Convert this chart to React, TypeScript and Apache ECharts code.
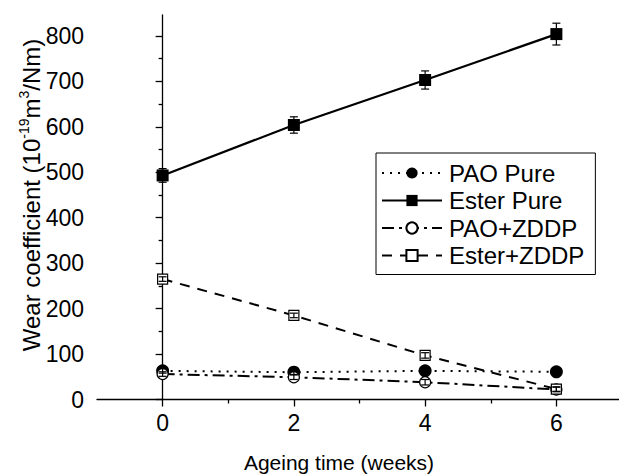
import React, { useEffect, useRef } from "react";
import * as echarts from "echarts";

const weeks = [0, 2, 4, 6];
const paoPure = [63, 60, 63, 61];
const paoPureErr = [5, 5, 4, 4];
const esterPure = [493, 604, 703, 804];
const esterPureErr = [15, 18, 20, 24];
const paoZddp = [56, 49, 38, 22];
const paoZddpErr = [5, 5, 6, 5];
const esterZddp = [265, 185, 97, 23];
const esterZddpErr = [5, 5, 6, 5];

const seriesNames = ["PAO Pure", "Ester Pure", "PAO+ZDDP", "Ester+ZDDP"];
const xTickLabels = [0, 2, 4, 6];
const xMinorTicks = [1, 3, 5];
const yTickLabels = [0, 100, 200, 300, 400, 500, 600, 700, 800];
const yMinorTicks = [50, 150, 250, 350, 450, 550, 650, 750];

const FONT = "'Liberation Sans', Arial, sans-serif";

function pairs(vals: number[]) {
  return weeks.map((w, i) => [w, vals[i]]);
}
function errData(vals: number[], errs: number[]) {
  return weeks.map((w, i) => [w, vals[i] - errs[i], vals[i] + errs[i]]);
}

function errSeries(vals: number[], errs: number[]) {
  return {
    type: "custom",
    silent: true,
    z: 5,
    data: errData(vals, errs),
    renderItem: (params: any, api: any) => {
      const x = api.value(0);
      const lo = api.coord([x, api.value(1)]);
      const hi = api.coord([x, api.value(2)]);
      const cw = 4;
      const st = { stroke: "#000", lineWidth: 1.2 };
      return {
        type: "group",
        children: [
          { type: "line", shape: { x1: lo[0], y1: lo[1], x2: hi[0], y2: hi[1] }, style: st },
          { type: "line", shape: { x1: hi[0] - cw, y1: hi[1], x2: hi[0] + cw, y2: hi[1] }, style: st },
          { type: "line", shape: { x1: lo[0] - cw, y1: lo[1], x2: lo[0] + cw, y2: lo[1] }, style: st },
        ],
      };
    },
  };
}

export default function App() {
  const ref = useRef<HTMLDivElement>(null);
  useEffect(() => {
    if (!ref.current) return;
    const chart = echarts.init(ref.current, null, { renderer: "svg" });
    const axisLine = { show: true, lineStyle: { color: "#000", width: 1.3 } };
    const option: any = {
      animation: false,
      backgroundColor: "#fff",
      grid: { left: 97, top: 15, width: 525, height: 384.5, outerBoundsMode: "none", containLabel: false },
      xAxis: [
        {
          type: "value",
          min: -1,
          max: 7,
          interval: 1,
          position: "bottom",
          axisLine: { ...axisLine, onZero: false },
          splitLine: { show: false },
          axisTick: { show: true, inside: false, length: 7, customValues: xTickLabels, lineStyle: { color: "#000", width: 1.3 } },
          axisLabel: { customValues: xTickLabels, color: "#000", fontSize: 23, fontFamily: FONT, margin: 12 },
        },
        {
          type: "value",
          min: -1,
          max: 7,
          interval: 1,
          position: "bottom",
          axisLine: { show: false },
          splitLine: { show: false },
          axisTick: { show: true, inside: false, length: 4, customValues: xMinorTicks, lineStyle: { color: "#000", width: 1.3 } },
          axisLabel: { show: false },
        },
      ],
      yAxis: [
        {
          type: "value",
          min: 0,
          max: 846,
          interval: 100,
          position: "left",
          axisLine,
          splitLine: { show: false },
          axisTick: { show: true, inside: false, length: 7, customValues: yTickLabels, lineStyle: { color: "#000", width: 1.3 } },
          axisLabel: { customValues: yTickLabels, color: "#000", fontSize: 23, fontFamily: FONT, margin: 13 },
        },
        {
          type: "value",
          min: 0,
          max: 846,
          interval: 100,
          position: "left",
          axisLine: { show: false },
          splitLine: { show: false },
          axisTick: { show: true, inside: false, length: 4, customValues: yMinorTicks, lineStyle: { color: "#000", width: 1.3 } },
          axisLabel: { show: false },
        },
      ],
      legend: {
        data: seriesNames,
        orient: "vertical",
        left: 376,
        top: 153,
        padding: [8, 11, 7, 5],
        itemWidth: 60,
        itemHeight: 14,
        itemGap: 3.5,
        borderColor: "#000",
        borderWidth: 1,
        borderRadius: 0,
        backgroundColor: "#fff",
        textStyle: { color: "#000", fontSize: 24, fontFamily: FONT, lineHeight: 24, padding: [0, 0, 0, 2] },
      },
      graphic: [
        {
          type: "text",
          x: 339,
          y: 462,
          style: {
            text: "Ageing time (weeks)",
            fontSize: 21,
            fontFamily: FONT,
            fill: "#000",
            align: "center",
            verticalAlign: "middle",
          },
        },
        {
          type: "text",
          x: 31,
          y: 195,
          rotation: Math.PI / 2,
          style: {
            text: "Wear coefficient (10{sup|-19}m{sup|3}/Nm)",
            fontSize: 24,
            fontFamily: FONT,
            fill: "#000",
            align: "center",
            verticalAlign: "middle",
            lineHeight: 28,
            rich: {
              sup: { fontSize: 14, fontFamily: FONT, fill: "#000", verticalAlign: "top", lineHeight: 28 },
            },
          },
        },
      ],
      series: [
        {
          name: "PAO Pure",
          type: "line",
          data: pairs(paoPure),
          symbol: "circle",
          symbolSize: 13,
          itemStyle: { color: "#000" },
          lineStyle: { color: "#000", width: 2, type: [2, 6] },
          z: 2,
        },
        {
          name: "Ester Pure",
          type: "line",
          data: pairs(esterPure),
          symbol: "rect",
          symbolSize: 12,
          itemStyle: { color: "#000" },
          lineStyle: { color: "#000", width: 2.2, type: "solid" },
          z: 2,
        },
        {
          name: "PAO+ZDDP",
          type: "line",
          data: pairs(paoZddp),
          symbol: "circle",
          symbolSize: 11,
          itemStyle: { color: "#fff", borderColor: "#000", borderWidth: 1.2 },
          lineStyle: { color: "#000", width: 2, type: [12, 5, 3, 5] },
          z: 3,
        },
        {
          name: "Ester+ZDDP",
          type: "line",
          data: pairs(esterZddp),
          symbol: "rect",
          symbolSize: 10,
          itemStyle: { color: "#fff", borderColor: "#000", borderWidth: 1.2 },
          lineStyle: { color: "#000", width: 2, type: [10, 8] },
          z: 3,
        },
        errSeries(paoPure, paoPureErr),
        errSeries(esterPure, esterPureErr),
        errSeries(paoZddp, paoZddpErr),
        errSeries(esterZddp, esterZddpErr),
      ],
    };
    chart.setOption(option);
    return () => chart.dispose();
  }, []);
  return (
    <div
      ref={ref}
      style={{ position: "fixed", left: 0, top: 0, width: 619, height: 476, background: "#fff" }}
    />
  );
}
